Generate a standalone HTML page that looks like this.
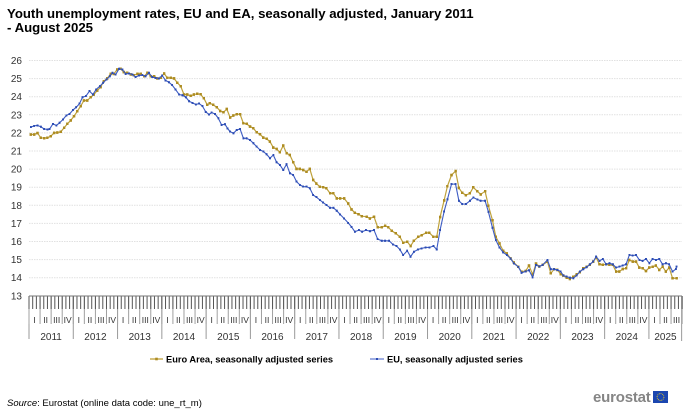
<!DOCTYPE html>
<html><head><meta charset="utf-8"><style>
html,body{margin:0;padding:0;background:#fff;}
svg{display:block;font-family:"Liberation Sans",Arial,sans-serif;}
</style></head><body>
<svg width="700" height="414" viewBox="0 0 700 414" xmlns="http://www.w3.org/2000/svg">
<defs>
<marker id="mg" markerUnits="userSpaceOnUse" markerWidth=".7" markerHeight=".15" refX=".35" refY=".075"><rect width=".7" height=".15" fill="#ad8c22"/></marker>
<marker id="mb" markerUnits="userSpaceOnUse" markerWidth=".55" markerHeight=".12" refX=".275" refY=".06"><rect width=".55" height=".12" fill="#2c4cb3"/></marker>
</defs>
<rect width="700" height="414" fill="#fff"/>
<text x="7" y="18" font-size="13.2" font-weight="bold" fill="#000">Youth unemployment rates, EU and EA, seasonally adjusted, January 2011</text>
<text x="7" y="32" font-size="13.2" font-weight="bold" fill="#000">- August 2025</text>

<!-- gridlines -->
<path d="M29 60.5H682M29 78.6H682M29 96.7H682M29 114.8H682M29 132.9H682M29 151H682M29 169.1H682M29 187.2H682M29 205.3H682M29 223.4H682M29 241.5H682M29 259.6H682M29 277.7H682" stroke="#e1e1e1" stroke-width="1" stroke-dasharray="1.5 1" fill="none"/>

<!-- y labels -->
<g font-size="10" fill="#333" text-anchor="end">
<text x="22" y="64">26</text><text x="22" y="82.1">25</text><text x="22" y="100.2">24</text><text x="22" y="118.3">23</text><text x="22" y="136.4">22</text><text x="22" y="154.5">21</text><text x="22" y="172.6">20</text><text x="22" y="190.7">19</text><text x="22" y="208.8">18</text><text x="22" y="226.9">17</text><text x="22" y="245">16</text><text x="22" y="263.1">15</text><text x="22" y="281.2">14</text><text x="22" y="299.3">13</text>
</g>

<!-- x axis ticks -->
<line x1="28.5" y1="317.5" x2="683" y2="317.5" stroke="#9a9a9a" stroke-width="43" stroke-dasharray="1 43.28"/>
<line x1="681.63" y1="296" x2="681.63" y2="341" stroke="#9a9a9a" stroke-width="1"/>
<line x1="28.5" y1="310" x2="683" y2="310" stroke="#a0a0a0" stroke-width="28" stroke-dasharray="1 10.07"/>
<line x1="28.5" y1="302.5" x2="683" y2="302.5" stroke="#555" stroke-width="13" stroke-dasharray="1 2.69"/>
<line x1="29" y1="296" x2="682" y2="296" stroke="#777" stroke-width="1"/>

<!-- quarter labels -->
<g font-size="8.5" fill="#333" text-anchor="middle">
<text x="34.5" y="323">I</text><text x="45.6" y="323">II</text><text x="56.7" y="323">III</text><text x="67.7" y="323">IV</text>
<text x="78.8" y="323">I</text><text x="89.9" y="323">II</text><text x="101" y="323">III</text><text x="112" y="323">IV</text>
<text x="123.1" y="323">I</text><text x="134.2" y="323">II</text><text x="145.3" y="323">III</text><text x="156.3" y="323">IV</text>
<text x="167.4" y="323">I</text><text x="178.4" y="323">II</text><text x="189.5" y="323">III</text><text x="200.6" y="323">IV</text>
<text x="211.7" y="323">I</text><text x="222.7" y="323">II</text><text x="233.8" y="323">III</text><text x="244.9" y="323">IV</text>
<text x="255.9" y="323">I</text><text x="267" y="323">II</text><text x="278.1" y="323">III</text><text x="289.1" y="323">IV</text>
<text x="300.2" y="323">I</text><text x="311.3" y="323">II</text><text x="322.4" y="323">III</text><text x="333.4" y="323">IV</text>
<text x="344.5" y="323">I</text><text x="355.6" y="323">II</text><text x="366.6" y="323">III</text><text x="377.7" y="323">IV</text>
<text x="388.8" y="323">I</text><text x="399.8" y="323">II</text><text x="410.9" y="323">III</text><text x="422" y="323">IV</text>
<text x="433.1" y="323">I</text><text x="444.1" y="323">II</text><text x="455.2" y="323">III</text><text x="466.3" y="323">IV</text>
<text x="477.3" y="323">I</text><text x="488.4" y="323">II</text><text x="499.5" y="323">III</text><text x="510.5" y="323">IV</text>
<text x="521.6" y="323">I</text><text x="532.7" y="323">II</text><text x="543.8" y="323">III</text><text x="554.8" y="323">IV</text>
<text x="565.9" y="323">I</text><text x="577" y="323">II</text><text x="588" y="323">III</text><text x="599.1" y="323">IV</text>
<text x="610.2" y="323">I</text><text x="621.2" y="323">II</text><text x="632.3" y="323">III</text><text x="643.4" y="323">IV</text>
<text x="654.5" y="323">I</text><text x="665.5" y="323">II</text><text x="676.6" y="323">III</text>
</g>
<!-- year labels -->
<g font-size="10" fill="#333" text-anchor="middle">
<text x="51.1" y="340">2011</text><text x="95.4" y="340">2012</text><text x="139.7" y="340">2013</text><text x="184" y="340">2014</text><text x="228.3" y="340">2015</text><text x="272.5" y="340">2016</text><text x="316.8" y="340">2017</text><text x="361.1" y="340">2018</text><text x="405.4" y="340">2019</text><text x="449.7" y="340">2020</text><text x="493.9" y="340">2021</text><text x="538.2" y="340">2022</text><text x="582.5" y="340">2023</text><text x="626.8" y="340">2024</text><text x="665.5" y="340">2025</text>
</g>

<!-- series -->
<g transform="matrix(3.69,0,0,-18.1,30.845,531.1)">
<polyline fill="none" stroke="#bfa23c" stroke-width="1.2" vector-effect="non-scaling-stroke" stroke-linejoin="round" points="0,21.91 0.9,21.91 1.8,21.99 2.7,21.73 3.6,21.71 4.5,21.73 5.4,21.82 6.3,22 7.2,22.02 8.1,22.06 9,22.28 9.9,22.5 10.8,22.69 11.7,22.92 12.6,23.2 13.5,23.48 14.4,23.79 15.3,23.79 16.2,23.97 17.1,24.12 18,24.34 18.9,24.53 19.8,24.86 20.7,25.01 21.6,25.26 22.5,25.26 23.4,25.5 24.3,25.54 25.2,25.36 26.1,25.32 27.1,25.23 27.9,25.19 28.9,25.26 29.8,25.26 30.7,25.13 31.6,25.32 32.5,25.13 33.4,25.13 34.3,25.01 35.2,25.04 36.1,25.28 37,25.04 37.9,25.04 38.8,25.01 39.7,24.77 40.6,24.58 41.5,24.12 42.4,24.12 43.3,24.05 44.2,24.12 45.1,24.16 46,24.13 46.9,23.91 47.8,23.55 48.5,23.64 49.4,23.55 50.4,23.42 51.3,23.21 52.2,23.14 53.1,23.32 54,22.85 54.9,22.96 55.8,23.03 56.7,23.03 57.6,22.53 58.5,22.5 59.4,22.35 60.3,22.26 61.2,22.03 62.1,21.92 63,21.74 63.9,21.67 64.8,21.52 65.7,21.19 66.6,21.11 67.5,20.93 68.4,21.3 69.3,20.87 70.2,20.78 71.1,20.38 72,20.01 72.9,20.01 73.8,19.95 74.7,19.86 75.6,20.01 76.5,19.4 77.4,19.2 78.3,19.03 79.2,19 80.1,18.94 81.1,18.66 82,18.66 82.9,18.38 83.8,18.38 84.9,18.38 86,18.1 86.9,17.77 87.8,17.59 88.8,17.5 89.7,17.4 91,17.37 91.9,17.27 93,17.37 94,16.78 95.1,16.78 96,16.87 96.9,16.78 97.8,16.59 98.9,16.45 100,16.26 100.9,15.93 102,15.99 102.9,15.75 103.8,16.04 105,16.26 105.9,16.35 107.1,16.48 108,16.48 109.1,16.26 110,16.26 110.9,17.35 112,18.27 112.9,19.06 114,19.67 115.1,19.89 116,18.96 116.9,18.69 117.9,18.56 119,18.66 119.9,18.99 121,18.78 121.9,18.6 123.1,18.78 124,17.97 125.1,17.18 126,16.26 127,15.89 128,15.49 129,15.34 130,15.06 130.9,14.84 132.1,14.6 133,14.33 134.1,14.37 135,14.67 136,14.18 136.9,14.78 137.8,14.62 138.7,14.71 140,14.89 140.9,14.24 141.8,14.47 142.7,14.43 143.6,14.19 144.3,14.12 145.2,14 146.1,13.93 147,14.06 147.9,14.19 148.8,14.3 149.7,14.52 150.6,14.61 151.5,14.71 152.4,14.89 153.2,15.11 154.1,14.74 155,14.71 155.9,14.74 156.8,14.71 157.7,14.71 158.6,14.34 159.5,14.34 160.4,14.48 161.3,14.52 162.2,14.98 163.1,14.89 164,14.89 164.9,14.56 165.8,14.52 166.7,14.37 167.6,14.56 168.5,14.61 169.4,14.67 170.3,14.43 171.2,14.61 172.1,14.34 173,14.56 173.9,13.97 175,13.97"/>
<polyline fill="none" stroke="none" marker-start="url(#mg)" marker-mid="url(#mg)" marker-end="url(#mg)" points="0,21.91 0.9,21.91 1.8,21.99 2.7,21.73 3.6,21.71 4.5,21.73 5.4,21.82 6.3,22 7.2,22.02 8.1,22.06 9,22.28 9.9,22.5 10.8,22.69 11.7,22.92 12.6,23.2 13.5,23.48 14.4,23.79 15.3,23.79 16.2,23.97 17.1,24.12 18,24.34 18.9,24.53 19.8,24.86 20.7,25.01 21.6,25.26 22.5,25.26 23.4,25.5 24.3,25.54 25.2,25.36 26.1,25.32 27.1,25.23 27.9,25.19 28.9,25.26 29.8,25.26 30.7,25.13 31.6,25.32 32.5,25.13 33.4,25.13 34.3,25.01 35.2,25.04 36.1,25.28 37,25.04 37.9,25.04 38.8,25.01 39.7,24.77 40.6,24.58 41.5,24.12 42.4,24.12 43.3,24.05 44.2,24.12 45.1,24.16 46,24.13 46.9,23.91 47.8,23.55 48.5,23.64 49.4,23.55 50.4,23.42 51.3,23.21 52.2,23.14 53.1,23.32 54,22.85 54.9,22.96 55.8,23.03 56.7,23.03 57.6,22.53 58.5,22.5 59.4,22.35 60.3,22.26 61.2,22.03 62.1,21.92 63,21.74 63.9,21.67 64.8,21.52 65.7,21.19 66.6,21.11 67.5,20.93 68.4,21.3 69.3,20.87 70.2,20.78 71.1,20.38 72,20.01 72.9,20.01 73.8,19.95 74.7,19.86 75.6,20.01 76.5,19.4 77.4,19.2 78.3,19.03 79.2,19 80.1,18.94 81.1,18.66 82,18.66 82.9,18.38 83.8,18.38 84.9,18.38 86,18.1 86.9,17.77 87.8,17.59 88.8,17.5 89.7,17.4 91,17.37 91.9,17.27 93,17.37 94,16.78 95.1,16.78 96,16.87 96.9,16.78 97.8,16.59 98.9,16.45 100,16.26 100.9,15.93 102,15.99 102.9,15.75 103.8,16.04 105,16.26 105.9,16.35 107.1,16.48 108,16.48 109.1,16.26 110,16.26 110.9,17.35 112,18.27 112.9,19.06 114,19.67 115.1,19.89 116,18.96 116.9,18.69 117.9,18.56 119,18.66 119.9,18.99 121,18.78 121.9,18.6 123.1,18.78 124,17.97 125.1,17.18 126,16.26 127,15.89 128,15.49 129,15.34 130,15.06 130.9,14.84 132.1,14.6 133,14.33 134.1,14.37 135,14.67 136,14.18 136.9,14.78 137.8,14.62 138.7,14.71 140,14.89 140.9,14.24 141.8,14.47 142.7,14.43 143.6,14.19 144.3,14.12 145.2,14 146.1,13.93 147,14.06 147.9,14.19 148.8,14.3 149.7,14.52 150.6,14.61 151.5,14.71 152.4,14.89 153.2,15.11 154.1,14.74 155,14.71 155.9,14.74 156.8,14.71 157.7,14.71 158.6,14.34 159.5,14.34 160.4,14.48 161.3,14.52 162.2,14.98 163.1,14.89 164,14.89 164.9,14.56 165.8,14.52 166.7,14.37 167.6,14.56 168.5,14.61 169.4,14.67 170.3,14.43 171.2,14.61 172.1,14.34 173,14.56 173.9,13.97 175,13.97"/>
<polyline fill="none" stroke="#3d5cc4" stroke-width="1.1" vector-effect="non-scaling-stroke" stroke-linejoin="round" points="0,22.32 0.9,22.39 1.8,22.41 2.7,22.34 3.6,22.22 4.5,22.19 5.1,22.22 6,22.5 6.9,22.41 7.8,22.56 8.7,22.74 9.6,22.96 10.5,23.05 11.4,23.26 12.3,23.42 13.2,23.62 14,23.97 14.9,24.03 15.9,24.31 16.8,24.12 17.7,24.4 18.7,24.58 19.6,24.77 20.5,24.95 21.4,25.13 22.1,25.32 23,25.23 23.9,25.54 24.8,25.5 25.7,25.26 26.6,25.28 27.5,25.23 28.4,25.08 29.3,25.17 30.2,25.19 31.1,25.13 32,25.32 32.9,25.08 33.8,25.04 34.7,25.01 35.6,25.17 36.5,24.9 37.4,24.8 38.3,24.64 39.2,24.4 40.2,24.12 41.1,24.08 42,23.97 42.9,23.75 43.8,23.66 44.7,23.57 45.6,23.62 46.5,23.48 47.4,23.16 48.3,23.02 49,23.12 49.9,23.05 50.8,22.81 51.7,22.44 52.6,22.48 53.3,22.25 54,22.07 54.9,21.98 55.8,22.16 56.7,22.22 57.6,21.7 58.5,21.7 59.4,21.61 60.3,21.43 61.2,21.24 62.1,21.06 63,20.97 63.9,20.82 64.8,20.6 65.7,20.78 66.6,20.38 67.5,20.23 68.4,19.95 69.3,20.27 70.2,19.77 71.1,19.68 72,19.31 72.9,19.13 73.8,19.03 74.7,19.03 75.6,18.94 76.5,18.57 77.4,18.45 78.3,18.3 79.2,18.15 80.1,18.02 81.1,17.86 82,17.86 82.9,17.7 83.8,17.5 84.9,17.27 86,17.03 86.9,16.81 87.8,16.54 88.9,16.63 89.8,16.54 90.8,16.63 91.9,16.57 93,16.63 94,16.13 95.1,16.04 96,16.04 97.1,16.04 98.1,15.84 99.1,15.75 100,15.56 100.9,15.25 102,15.49 102.9,15.16 103.8,15.43 104.9,15.56 105.9,15.62 107,15.67 108,15.67 109.1,15.75 110,15.56 110.9,16.63 112,17.66 112.9,18.33 114,19.17 115.1,19.17 116,18.25 116.9,18.07 117.9,18.07 119,18.25 119.9,18.43 121,18.32 121.9,18.25 123.1,18.25 124,17.64 125.1,16.76 126,16.08 127,15.67 128,15.4 129,15.25 130,15.06 130.9,14.79 132.1,14.6 133,14.27 134.1,14.35 135,14.41 136,14.02 136.9,14.71 137.8,14.61 138.7,14.71 140,14.98 140.9,14.47 141.8,14.47 142.7,14.43 143.6,14.34 144.3,14.12 145.2,14.06 146.1,14 147,13.97 147.9,14.12 148.8,14.34 149.7,14.47 150.6,14.58 151.5,14.74 152.4,14.89 153.2,15.17 154.1,14.93 155,15.04 155.9,14.74 156.8,14.8 157.7,14.74 158.6,14.56 159.5,14.61 160.4,14.67 161.3,14.74 162.2,15.26 163.1,15.22 164,15.26 164.9,14.98 165.8,14.93 166.7,15.04 167.6,14.8 168.5,15.04 169.4,14.98 170.3,15.04 171.2,14.74 172.1,14.8 173,14.74 173.9,14.34 174.8,14.48 175,14.61"/>
<polyline fill="none" stroke="none" marker-start="url(#mb)" marker-mid="url(#mb)" marker-end="url(#mb)" points="0,22.32 0.9,22.39 1.8,22.41 2.7,22.34 3.6,22.22 4.5,22.19 5.1,22.22 6,22.5 6.9,22.41 7.8,22.56 8.7,22.74 9.6,22.96 10.5,23.05 11.4,23.26 12.3,23.42 13.2,23.62 14,23.97 14.9,24.03 15.9,24.31 16.8,24.12 17.7,24.4 18.7,24.58 19.6,24.77 20.5,24.95 21.4,25.13 22.1,25.32 23,25.23 23.9,25.54 24.8,25.5 25.7,25.26 26.6,25.28 27.5,25.23 28.4,25.08 29.3,25.17 30.2,25.19 31.1,25.13 32,25.32 32.9,25.08 33.8,25.04 34.7,25.01 35.6,25.17 36.5,24.9 37.4,24.8 38.3,24.64 39.2,24.4 40.2,24.12 41.1,24.08 42,23.97 42.9,23.75 43.8,23.66 44.7,23.57 45.6,23.62 46.5,23.48 47.4,23.16 48.3,23.02 49,23.12 49.9,23.05 50.8,22.81 51.7,22.44 52.6,22.48 53.3,22.25 54,22.07 54.9,21.98 55.8,22.16 56.7,22.22 57.6,21.7 58.5,21.7 59.4,21.61 60.3,21.43 61.2,21.24 62.1,21.06 63,20.97 63.9,20.82 64.8,20.6 65.7,20.78 66.6,20.38 67.5,20.23 68.4,19.95 69.3,20.27 70.2,19.77 71.1,19.68 72,19.31 72.9,19.13 73.8,19.03 74.7,19.03 75.6,18.94 76.5,18.57 77.4,18.45 78.3,18.3 79.2,18.15 80.1,18.02 81.1,17.86 82,17.86 82.9,17.7 83.8,17.5 84.9,17.27 86,17.03 86.9,16.81 87.8,16.54 88.9,16.63 89.8,16.54 90.8,16.63 91.9,16.57 93,16.63 94,16.13 95.1,16.04 96,16.04 97.1,16.04 98.1,15.84 99.1,15.75 100,15.56 100.9,15.25 102,15.49 102.9,15.16 103.8,15.43 104.9,15.56 105.9,15.62 107,15.67 108,15.67 109.1,15.75 110,15.56 110.9,16.63 112,17.66 112.9,18.33 114,19.17 115.1,19.17 116,18.25 116.9,18.07 117.9,18.07 119,18.25 119.9,18.43 121,18.32 121.9,18.25 123.1,18.25 124,17.64 125.1,16.76 126,16.08 127,15.67 128,15.4 129,15.25 130,15.06 130.9,14.79 132.1,14.6 133,14.27 134.1,14.35 135,14.41 136,14.02 136.9,14.71 137.8,14.61 138.7,14.71 140,14.98 140.9,14.47 141.8,14.47 142.7,14.43 143.6,14.34 144.3,14.12 145.2,14.06 146.1,14 147,13.97 147.9,14.12 148.8,14.34 149.7,14.47 150.6,14.58 151.5,14.74 152.4,14.89 153.2,15.17 154.1,14.93 155,15.04 155.9,14.74 156.8,14.8 157.7,14.74 158.6,14.56 159.5,14.61 160.4,14.67 161.3,14.74 162.2,15.26 163.1,15.22 164,15.26 164.9,14.98 165.8,14.93 166.7,15.04 167.6,14.8 168.5,15.04 169.4,14.98 170.3,15.04 171.2,14.74 172.1,14.8 173,14.74 173.9,14.34 174.8,14.48 175,14.61"/>
</g>

<!-- legend -->
<line x1="150" y1="359" x2="163" y2="359" stroke="#c9ae55" stroke-width="1.5"/>
<rect x="155.2" y="357.7" width="2.6" height="2.6" fill="#ad8c22"/>
<text x="166" y="362.3" font-size="9.3" font-weight="bold" fill="#000">Euro Area, seasonally adjusted series</text>
<line x1="370" y1="359" x2="384" y2="359" stroke="#7f93d8" stroke-width="1.5"/>
<rect x="376" y="358" width="2" height="2" fill="#2c4cb3"/>
<text x="387" y="362.3" font-size="9.3" font-weight="bold" fill="#000">EU, seasonally adjusted series</text>

<!-- source -->
<text x="7" y="406" font-size="9.5" fill="#000"><tspan font-style="italic">Source</tspan>: Eurostat (online data code: une_rt_m)</text>

<!-- logo -->
<text x="593" y="402" font-size="15" font-weight="bold" fill="#858585" letter-spacing="-0.2">eurostat</text>
<rect x="653" y="391" width="15" height="12" fill="#1b46b0"/>
<circle cx="660.5" cy="397" r="3.4" fill="none" stroke="#f4d21a" stroke-width="0.9" stroke-dasharray="0.9 0.88"/>
</svg>
</body></html>
